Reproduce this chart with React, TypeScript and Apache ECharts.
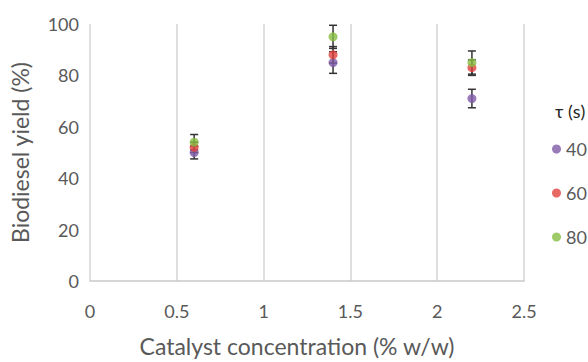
import React, { useEffect, useRef } from "react";
import * as echarts from "echarts";

const catalyst = [0.6, 1.4, 2.2];
const yield40 = [50, 85, 71];
const yield60 = [52, 88, 83];
const yield80 = [54, 95, 85];
const err40 = [2.5, 4.2, 3.6];
const err60 = [2, 3.2, 3];
const err80 = [3, 4.5, 4.5];
const seriesNames = ["40", "60", "80"];
const seriesColors = ["#7f5aa8", "#e2423e", "#87bd42"];
const xTicks = [0, 0.5, 1, 1.5, 2, 2.5];
const yTicks = [0, 20, 40, 60, 80, 100];

const FONT = "Lato, 'Open Sans', sans-serif";
const TEXT = "#595959";

export default function App() {
  const ref = useRef<HTMLDivElement>(null);
  useEffect(() => {
    if (!ref.current) return;
    document.body.style.margin = "0";
    const chart = echarts.init(ref.current, undefined, { renderer: "svg" });
    const ys = [yield40, yield60, yield80];
    const es = [err40, err60, err80];
    const series: any[] = [];
    ys.forEach((yv, i) => {
      series.push({
        type: "custom",
        name: seriesNames[i] + "-err",
        data: catalyst.map((x, k) => [x, yv[k], es[i][k]]),
        encode: { x: 0, y: 1 },
        silent: true,
        renderItem: (params: any, api: any) => {
          const x = api.value(0);
          const y = api.value(1);
          const e = api.value(2);
          const top = api.coord([x, y + e]);
          const bot = api.coord([x, y - e]);
          const cap = 4;
          const style = { stroke: "#333333", lineWidth: 1.5 };
          return {
            type: "group",
            children: [
              { type: "line", shape: { x1: top[0], y1: top[1], x2: bot[0], y2: bot[1] }, style },
              { type: "line", shape: { x1: top[0] - cap, y1: top[1], x2: top[0] + cap, y2: top[1] }, style },
              { type: "line", shape: { x1: bot[0] - cap, y1: bot[1], x2: bot[0] + cap, y2: bot[1] }, style },
            ],
          };
        },
      });
      series.push({
        type: "scatter",
        name: seriesNames[i],
        data: catalyst.map((x, k) => [x, yv[k]]),
        symbol: "circle",
        symbolSize: 9,
        itemStyle: { color: seriesColors[i] },
      });
    });
    chart.setOption({
      animation: false,
      backgroundColor: "#ffffff",
      grid: { left: 90, right: 64, top: 24, bottom: 75 },
      xAxis: {
        type: "value",
        min: xTicks[0],
        max: xTicks[xTicks.length - 1],
        interval: 0.5,
        name: "Catalyst concentration (% w/w)",
        nameLocation: "middle",
        nameGap: 53,
        nameTextStyle: { fontFamily: FONT, fontSize: 23, color: TEXT, padding: [0, 20, 0, 0] },
        axisLine: { show: true, onZero: false, lineStyle: { color: "#c9c9c9", width: 1.5 } },
        axisTick: { show: false },
        axisLabel: { fontFamily: FONT, fontSize: 18, color: TEXT, margin: 21 },
        splitLine: { show: true, lineStyle: { color: "#d4d4d4", width: 1.5 } },
      },
      yAxis: {
        type: "value",
        min: yTicks[0],
        max: yTicks[yTicks.length - 1],
        interval: 20,
        name: "Biodiesel yield (%)",
        nameLocation: "middle",
        nameGap: 59,
        nameTextStyle: { fontFamily: FONT, fontSize: 23, color: TEXT },
        axisLine: { show: false },
        axisTick: { show: false },
        axisLabel: { fontFamily: FONT, fontSize: 18, color: TEXT, margin: 11 },
        splitLine: { show: false },
      },
      legend: {
        data: seriesNames.map((n, i) => ({ name: n, itemStyle: { color: seriesColors[i] } })),
        orient: "vertical",
        left: 552,
        top: 140,
        padding: 0,
        icon: "circle",
        itemWidth: 9,
        itemHeight: 9,
        itemGap: 26,
        itemStyle: { borderWidth: 0 },
        textStyle: { fontFamily: FONT, fontSize: 18, color: TEXT, lineHeight: 18 },
      },
      graphic: [
        {
          type: "text",
          left: 555,
          top: 102,
          style: { text: "τ (s)", fontFamily: FONT, fontSize: 18, fill: "#262626" },
        },
      ],
      series,
    });
    return () => chart.dispose();
  }, []);
  return <div ref={ref} style={{ width: 588, height: 362 }} />;
}
